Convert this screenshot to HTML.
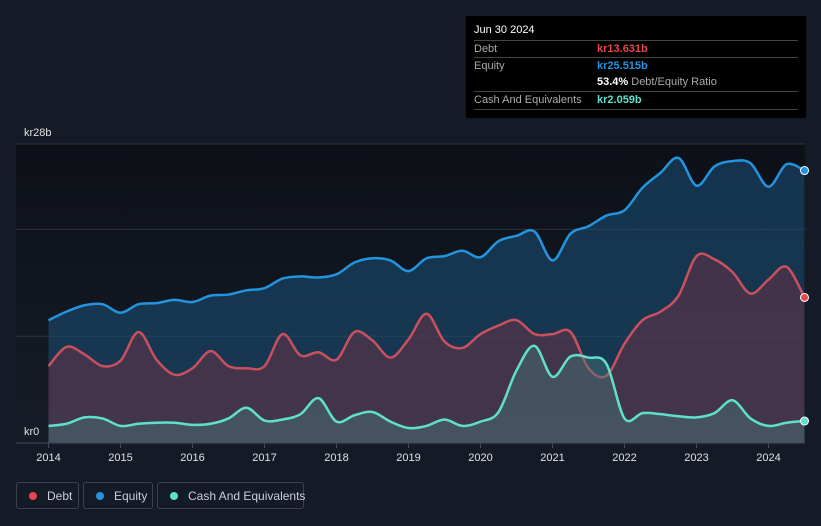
<!DOCTYPE html>
<html><head><meta charset="utf-8"><style>
body{margin:0;background:#151b26;font-family:"Liberation Sans",sans-serif;}
#wrap{position:relative;width:821px;height:526px;overflow:hidden;background:#151b26}
svg{position:absolute;left:0;top:0}
.tt{position:absolute;left:466px;top:16px;width:340px;height:102px;background:#000;color:#fff;font-size:11px}
.row{position:absolute;left:8px;width:324px;border-top:1px solid #444;height:17px;line-height:17px}
.lab{color:#aaa;position:absolute;left:0}
.val{position:absolute;left:123px;font-weight:bold;white-space:nowrap}
.leg{position:absolute;top:482px;height:27px;border:1px solid #3a4150;border-radius:3px;color:#ccd;font-size:12px;line-height:26px;box-sizing:border-box;white-space:nowrap}
.dot{display:inline-block;width:8px;height:8px;border-radius:50%;margin:0 10px 0 12px}
</style></head><body>
<div id="wrap">
<svg id="chart" width="821" height="526"></svg>
<div class="tt">
 <div style="position:absolute;left:8px;top:8px;font-size:11px">Jun 30 2024</div>
 <div class="row" style="top:24px"><span class="lab">Debt</span><span class="val" style="color:#e8474c">kr13.631b</span></div>
 <div class="row" style="top:41px"><span class="lab">Equity</span><span class="val" style="color:#2394df">kr25.515b</span></div>
 <div class="row" style="top:58px;border-top:none"><span class="val" style="color:#fff">53.4% <span style="color:#aaa;font-weight:normal">Debt/Equity Ratio</span></span></div>
 <div class="row" style="top:75px;border-bottom:1px solid #444"><span class="lab">Cash And Equivalents</span><span class="val" style="color:#5fe0cc">kr2.059b</span></div>
</div>
<div class="leg" style="left:16px;width:63px"><span class="dot" style="background:#e8474c"></span>Debt</div>
<div class="leg" style="left:83px;width:70px"><span class="dot" style="background:#2394df"></span>Equity</div>
<div class="leg" style="left:157px;width:147px"><span class="dot" style="background:#5fe0cc"></span>Cash And Equivalents</div>
</div>
<script>
const times=[2014,2014.25,2014.5,2014.75,2015,2015.25,2015.5,2015.75,2016,2016.25,2016.5,2016.75,2017,2017.25,2017.5,2017.75,2018,2018.25,2018.5,2018.75,2019,2019.25,2019.5,2019.75,2020,2020.25,2020.5,2020.75,2021,2021.25,2021.5,2021.75,2022,2022.25,2022.5,2022.75,2023,2023.25,2023.5,2023.75,2024,2024.25,2024.5];
const equity=[11.5,12.3,12.9,13.0,12.2,13.0,13.1,13.4,13.2,13.8,13.9,14.3,14.5,15.4,15.6,15.5,15.8,16.9,17.3,17.1,16.1,17.3,17.5,18.0,17.4,18.9,19.4,19.8,17.1,19.6,20.3,21.3,21.8,23.9,25.3,26.7,24.1,25.9,26.4,26.2,24.0,26.1,25.515];
const debt=[7.2,9.0,8.3,7.2,7.7,10.4,7.8,6.4,7.0,8.6,7.2,7.0,7.2,10.2,8.2,8.5,7.8,10.4,9.6,8.0,9.7,12.1,9.5,8.9,10.2,11.0,11.5,10.2,10.2,10.4,7.0,6.3,9.3,11.5,12.3,13.8,17.5,17.2,16.0,14.0,15.3,16.5,13.631];
const cash=[1.6,1.8,2.4,2.3,1.6,1.8,1.9,1.9,1.7,1.8,2.3,3.3,2.1,2.2,2.7,4.2,2.0,2.6,2.9,2.0,1.4,1.6,2.2,1.6,2.0,2.9,6.8,9.1,6.2,8.1,8.0,7.4,2.3,2.8,2.7,2.5,2.4,2.8,4.0,2.3,1.6,1.9,2.059];
const yearTicks=[2014,2015,2016,2017,2018,2019,2020,2021,2022,2023,2024];
const gridVals=[10,20,28];
const NS="http://www.w3.org/2000/svg";
const svg=document.getElementById('chart');
const X0=48.5,PX=72,Y0=443,PY=299/28;
const xs=t=>X0+(t-2014)*PX, ys=v=>Y0-v*PY;
function mk(tag,attrs){const e=document.createElementNS(NS,tag);for(const k in attrs)e.setAttribute(k,attrs[k]);svg.appendChild(e);return e;}
svg.innerHTML='<defs><linearGradient id="bg" x1="0" y1="0" x2="0" y2="1"><stop offset="0" stop-color="#0d1017"/><stop offset="1" stop-color="#161c27"/></linearGradient></defs>';
const bgr=mk('rect',{x:16,y:144,width:789,height:299,fill:'url(#bg)'});


gridVals.forEach(v=>{const l=mk('line',{x1:16,x2:805,y1:ys(v),y2:ys(v),stroke:'#2c3340','stroke-width':1});

});
function path(vals){let p=vals.map((v,i)=>[xs(times[i]),ys(v)]);let d='M'+p[0][0]+','+p[0][1];
for(let i=0;i<p.length-1;i++){const a=p[Math.max(0,i-1)],b=p[i],c=p[i+1],e=p[Math.min(p.length-1,i+2)];
const c1=[b[0]+(c[0]-a[0])/6,b[1]+(c[1]-a[1])/6],c2=[c[0]-(e[0]-b[0])/6,c[1]-(e[1]-b[1])/6];
d+=' C'+c1+' '+c2+' '+c;}return d;}
function series(vals,fill,stroke,name){
 const d=path(vals);const xe=xs(times[times.length-1]);
 const a=mk('path',{d:d+' L'+xe+','+Y0+' L'+X0+','+Y0+' Z',fill:fill});
 
 
 const l=mk('path',{d:d,fill:'none',stroke:stroke,'stroke-width':2.5});
 
 
}
series(equity,'rgba(27,80,120,0.55)','#2394df','equity');
series(debt,'rgba(110,50,70,0.5)','#c9505e','debt');
series(cash,'rgba(70,120,120,0.45)','#5fe0cc','cash');
[[equity,'#2394df','equity'],[debt,'#e8474c','debt'],[cash,'#5fe0cc','cash']].forEach(([v,c,n])=>{
 const m=mk('circle',{cx:xs(times[times.length-1]),cy:ys(v[v.length-1]),r:4,fill:c,stroke:'#fff','stroke-width':1});
 
 
});
const ax=mk('line',{x1:16,x2:805,y1:Y0,y2:Y0,stroke:'#444b58','stroke-width':1});


yearTicks.forEach(y=>{const t=mk('line',{x1:xs(y),x2:xs(y),y1:Y0,y2:Y0+5,stroke:'#444b58'});


const tx=mk('text',{x:xs(y),y:461,fill:'#e0e0e0','font-size':11,'text-anchor':'middle','font-family':'Liberation Sans, sans-serif'});
tx.textContent=y;

});
[['kr28b',136],['kr0',435]].forEach(([s,y])=>{const t=mk('text',{x:24,y:y,fill:'#e0e0e0','font-size':11,'font-family':'Liberation Sans, sans-serif'});t.textContent=s;

});
</script>
</body></html>
